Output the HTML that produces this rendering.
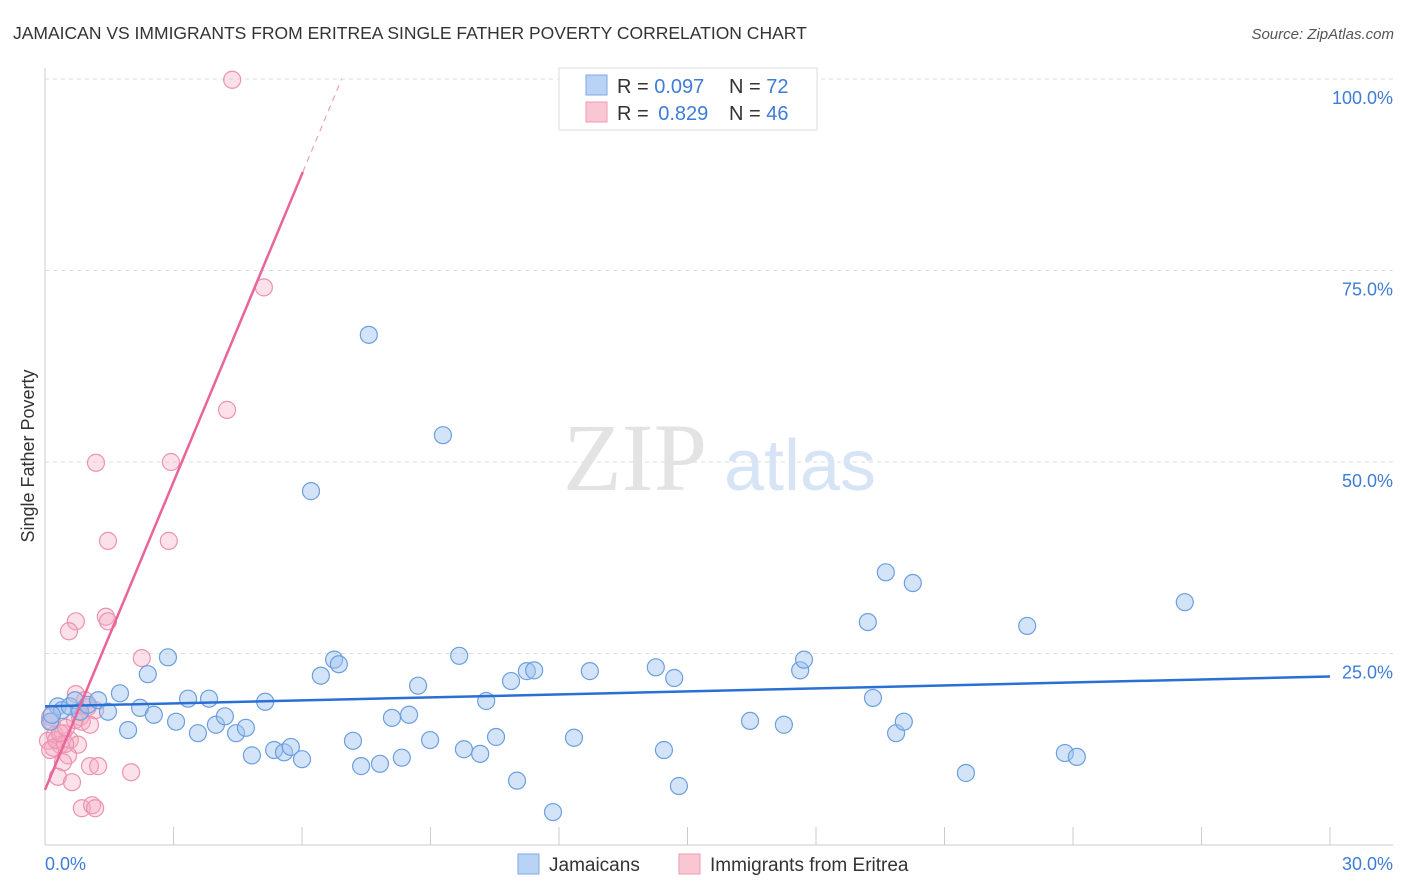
<!DOCTYPE html>
<html><head><meta charset="utf-8">
<style>
body{margin:0;background:#fff;font-family:"Liberation Sans",sans-serif;}
svg{display:block}
</style></head>
<body>
<svg id="chart" width="1406" height="892" xmlns="http://www.w3.org/2000/svg">
<text x="13" y="39" font-size="17.5" fill="#333" font-family="Liberation Sans, sans-serif">JAMAICAN VS IMMIGRANTS FROM ERITREA SINGLE FATHER POVERTY CORRELATION CHART</text>
<text x="1394" y="39" font-size="15" fill="#555" font-style="italic" text-anchor="end">Source: ZipAtlas.com</text>
<g id="grid"></g>
<g>
<text x="635" y="490" font-size="96" fill="#e3e3e3" font-family="Liberation Serif, serif" text-anchor="middle">ZIP</text>
<text x="800" y="490" font-size="72" fill="#d6e4f6" text-anchor="middle">atlas</text>
</g>
<g id="axes"></g>
<g id="pinkpts"></g>
<g id="bluepts"></g>
<g id="lines"></g>
<text transform="translate(34,456) rotate(-90)" font-size="18" fill="#333" text-anchor="middle">Single Father Poverty</text>
<g>
<rect x="559" y="68" width="258" height="62" fill="#fff" stroke="#ddd"/>
<rect x="586" y="75" width="21" height="20" fill="#b8d3f5" stroke="#7fa9e4"/>
<rect x="586" y="102" width="21" height="20" fill="#f9c6d4" stroke="#ee9ab3"/>
<text x="617" y="93" font-size="20" fill="#333">R = <tspan fill="#3d7dd6">0.097</tspan></text>
<text x="729" y="93" font-size="20" fill="#333">N = <tspan fill="#3d7dd6">72</tspan></text>
<text x="617" y="120" font-size="20" fill="#333">R = <tspan fill="#3d7dd6" dx="4">0.829</tspan></text>
<text x="729" y="120" font-size="20" fill="#333">N = <tspan fill="#3d7dd6">46</tspan></text>
</g>
<g>
<rect x="518" y="854" width="21" height="20" fill="#b8d3f5" stroke="#7fa9e4"/>
<text x="549" y="871" font-size="19" fill="#333">Jamaicans</text>
<rect x="679" y="854" width="21" height="20" fill="#f9c6d4" stroke="#ee9ab3"/>
<text x="710" y="871" font-size="19" fill="#333">Immigrants from Eritrea</text>
</g>
</svg>
<script>
const blueX=[0.30,0.40,0.58,0.70,0.82,1.00,1.24,1.47,1.75,1.94,2.22,2.40,2.54,2.87,3.06,3.34,3.57,3.83,3.99,4.20,4.46,4.69,4.83,5.14,5.35,5.58,5.74,6.00,6.21,6.44,6.75,6.86,7.19,7.38,7.56,7.82,8.10,8.33,8.50,8.71,8.99,9.29,9.67,9.78,10.16,10.30,10.53,10.88,11.02,11.25,11.42,11.86,12.35,12.72,14.26,14.45,14.69,14.80,16.46,17.25,17.63,17.72,19.21,19.33,19.63,19.87,20.05,20.26,21.50,22.93,23.81,24.09,26.61,0.12,0.16];
const blueY=[18.1,17.6,18.1,18.9,17.4,18.3,18.9,17.4,19.8,15.0,17.9,22.3,17.0,24.5,16.1,19.1,14.6,19.1,15.7,16.8,14.6,15.3,11.7,18.7,12.4,12.1,12.8,11.2,46.2,22.1,24.2,23.6,13.6,10.3,66.6,10.6,16.6,11.4,17.0,20.8,13.7,53.5,24.7,12.5,11.9,18.8,14.1,21.4,8.4,22.7,22.8,4.3,14.0,22.7,23.2,12.4,21.8,7.7,16.2,15.7,22.8,24.2,29.1,19.2,35.6,14.6,16.1,34.2,9.4,28.6,12.0,11.5,31.7,16.1,17.0];
const pinkX=[4.37,5.11,4.25,1.19,2.94,1.47,2.89,0.72,0.56,1.42,1.47,2.26,0.12,0.16,0.23,0.35,0.07,0.19,0.42,0.58,0.70,0.72,0.82,1.00,0.86,1.05,0.77,0.54,0.42,0.30,1.05,1.24,0.63,2.01,0.86,1.10,1.17,0.12,0.26,0.47,0.93,1.17,0.35,0.49];
const pinkY=[99.9,72.8,56.8,49.9,50.0,39.7,39.7,29.2,27.9,29.8,29.2,24.4,16.7,16.1,14.4,13.1,13.6,12.7,14.6,13.7,16.3,19.7,16.7,18.0,16.1,15.7,13.1,11.7,10.8,8.9,10.3,10.3,8.2,9.5,4.8,5.2,4.8,12.4,13.7,13.2,18.9,17.6,14.6,15.3];
const yTicks=[25,50,75,100];
const yTickLabels=["25.0%","50.0%","75.0%","100.0%"];
const xTicks=[0,3,6,9,12,15,18,21,24,27,30];
const xEndLabels=["0.0%","30.0%"];
const blueTrend=[18.1,22.0]; // at x=0 and x=30
const pinkTrend=[7.2,13.4]; // intercept, slope

const X0=45,X1=1330,Y0=845,Y100=79;
const sx=v=>X0+(X1-X0)*v/30;
const sy=v=>Y0-(Y0-Y100)*v/100;
const NS="http://www.w3.org/2000/svg";
function mk(parent,tag,attrs){const e=document.createElementNS(NS,tag);for(const k in attrs)e.setAttribute(k,attrs[k]);document.getElementById(parent).appendChild(e);return e;}

yTicks.forEach((t,i)=>{
  const g=mk('grid','line',{x1:X0,x2:1393,y1:sy(t),y2:sy(t),stroke:'#ddd','stroke-dasharray':'4,4'});
  
  
  const l=mk('axes','text',{x:1393,y:sy(t)+25,'font-size':18,fill:'#3d7dd6','text-anchor':'end'});
  l.textContent=yTickLabels[i];
  
  
});
let a=mk('axes','line',{x1:X0,x2:X0,y1:68,y2:Y0,stroke:'#ccc'});


a=mk('axes','line',{x1:X0,x2:1393,y1:Y0,y2:Y0,stroke:'#ccc'});


xTicks.forEach(t=>{
  const e=mk('axes','line',{x1:sx(t),x2:sx(t),y1:827,y2:Y0,stroke:'#ccc'});
  
  
});
let t0=mk('axes','text',{x:45,y:870,'font-size':18,fill:'#3d7dd6'});
t0.textContent=xEndLabels[0];


let t1=mk('axes','text',{x:1393,y:870,'font-size':18,fill:'#3d7dd6','text-anchor':'end'});
t1.textContent=xEndLabels[1];



pinkX.forEach((v,i)=>{
  const c=mk('pinkpts','circle',{cx:sx(v),cy:sy(pinkY[i]),r:8.5,fill:'rgba(246,170,194,0.35)',stroke:'#eb93ae','stroke-width':1.2});
  
  
});
blueX.forEach((v,i)=>{
  const c=mk('bluepts','circle',{cx:sx(v),cy:sy(blueY[i]),r:8.5,fill:'rgba(160,196,240,0.45)',stroke:'#6b9fe0','stroke-width':1.2});
  
  
});
let bl=mk('lines','line',{x1:sx(0),y1:sy(blueTrend[0]),x2:sx(30),y2:sy(blueTrend[1]),stroke:'#2a6fd4','stroke-width':2.5});


const px=x=>pinkTrend[0]+pinkTrend[1]*x;
let pl=mk('lines','line',{x1:sx(0),y1:sy(px(0)),x2:sx(6.02),y2:sy(px(6.02)),stroke:'#e8649a','stroke-width':2.5});


const xEnd=(100-pinkTrend[0])/pinkTrend[1];
let pd=mk('lines','line',{x1:sx(6.02),y1:sy(px(6.02)),x2:sx(xEnd),y2:sy(100),stroke:'#eea0bd','stroke-width':1.2,'stroke-dasharray':'6,5'});


</script>
</body></html>
